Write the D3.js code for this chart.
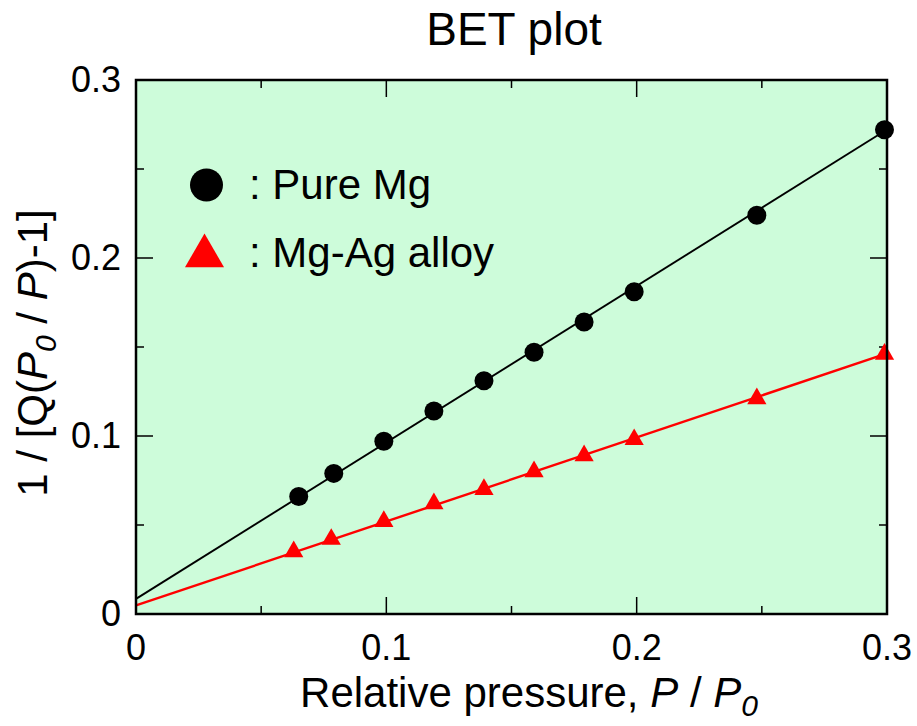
<!DOCTYPE html>
<html>
<head>
<meta charset="utf-8">
<script src="https://cdn.jsdelivr.net/npm/d3@7"></script>
<style>
  body { margin: 0; background: #fff; }
  text { font-family: "Liberation Sans", Arial, sans-serif; fill: #000; }
</style>
</head>
<body>
<div id="chart"></div>
<script>
/* ===== DATA ===== */
const mgX = [0.065, 0.079, 0.099, 0.119, 0.139, 0.159, 0.179, 0.199, 0.248, 0.299];
const mgY = [0.066, 0.079, 0.097, 0.114, 0.131, 0.147, 0.164, 0.181, 0.224, 0.272];
const agX = [0.063, 0.078, 0.099, 0.119, 0.139, 0.159, 0.179, 0.199, 0.248, 0.299];
const agY = [0.035, 0.042, 0.052, 0.062, 0.070, 0.080, 0.089, 0.098, 0.121, 0.146];
// linear fits: [intercept, slope]
const mgFit = [0.0085, 0.879];
const agFit = [0.0048, 0.472];
const xTicks = [0, 0.1, 0.2, 0.3];
const yTicks = [0, 0.1, 0.2, 0.3];
const xLabels = ["0", "0.1", "0.2", "0.3"];
const yLabels = ["0", "0.1", "0.2", "0.3"];

/* ===== LAYOUT ===== */
const width = 917, height = 726;
const margin = { left: 136, right: 30, top: 80, bottom: 112 };
const plotW = width - margin.left - margin.right;
const plotH = height - margin.top - margin.bottom;

const svg = d3.select("#chart").append("svg")
    .attr("width", width)
    .attr("height", height);

const x = d3.scaleLinear().domain([0, 0.3]).range([margin.left, margin.left + plotW]);
const y = d3.scaleLinear().domain([0, 0.3]).range([margin.top + plotH, margin.top]);

/* ===== PLOT BACKGROUND ===== */
svg.append("rect")
    .attr("x", margin.left).attr("y", margin.top)
    .attr("width", plotW).attr("height", plotH)
    .attr("fill", "#cdfcda");

/* ===== TICKS (inward, all sides) ===== */
const major = 17, minor = 8;
const minorVals = [0.05, 0.15, 0.25];
const tickG = svg.append("g").attr("stroke", "#000").attr("stroke-width", 1.5);
function drawX(v, len) {
    tickG.append("line").attr("x1", x(v)).attr("x2", x(v))
        .attr("y1", y(0)).attr("y2", y(0) - len);
    tickG.append("line").attr("x1", x(v)).attr("x2", x(v))
        .attr("y1", y(0.3)).attr("y2", y(0.3) + len);
}
function drawY(v, len) {
    tickG.append("line").attr("y1", y(v)).attr("y2", y(v))
        .attr("x1", x(0)).attr("x2", x(0) + len);
    tickG.append("line").attr("y1", y(v)).attr("y2", y(v))
        .attr("x1", x(0.3)).attr("x2", x(0.3) - len);
}
xTicks.forEach(v => drawX(v, major));
yTicks.forEach(v => drawY(v, major));
minorVals.forEach(v => { drawX(v, minor); drawY(v, minor); });

/* ===== FIT LINES ===== */
const line = d3.line().x(d => x(d[0])).y(d => y(d[1]));
svg.append("path")
    .attr("d", line([[0, mgFit[0]], [0.3, mgFit[0] + mgFit[1] * 0.3]]))
    .attr("stroke", "#000").attr("stroke-width", 1.9).attr("fill", "none");
svg.append("path")
    .attr("d", line([[0, agFit[0]], [0.3, agFit[0] + agFit[1] * 0.3]]))
    .attr("stroke", "#ff0000").attr("stroke-width", 2.4).attr("fill", "none");

/* ===== MARKERS ===== */
const tri = d3.symbol().type(d3.symbolTriangle).size(160);
svg.append("g").selectAll("path")
    .data(agX.map((v, i) => [v, agY[i]]))
    .enter().append("path")
    .attr("d", tri)
    .attr("transform", d => `translate(${x(d[0])},${y(d[1])})`)
    .attr("fill", "#ff0000");

svg.append("g").selectAll("circle")
    .data(mgX.map((v, i) => [v, mgY[i]]))
    .enter().append("circle")
    .attr("cx", d => x(d[0])).attr("cy", d => y(d[1]))
    .attr("r", 9.5).attr("fill", "#000");

/* ===== FRAME ===== */
svg.append("rect")
    .attr("x", margin.left).attr("y", margin.top)
    .attr("width", plotW).attr("height", plotH)
    .attr("fill", "none").attr("stroke", "#000").attr("stroke-width", 2.5);

/* ===== TICK LABELS ===== */
svg.append("g").selectAll("text").data(xTicks).enter().append("text")
    .attr("x", d => x(d)).attr("y", 660)
    .attr("text-anchor", "middle").attr("font-size", 36)
    .text((d, i) => xLabels[i]);
svg.append("g").selectAll("text").data(yTicks).enter().append("text")
    .attr("x", 121).attr("y", d => y(d) + 12)
    .attr("text-anchor", "end").attr("font-size", 36)
    .text((d, i) => yLabels[i]);

/* ===== TITLE ===== */
svg.append("text").attr("x", 514).attr("y", 45)
    .attr("text-anchor", "middle").attr("font-size", 46).text("BET plot");

/* ===== AXIS LABELS ===== */
const xl = svg.append("text").attr("x", 529).attr("y", 707)
    .attr("text-anchor", "middle").attr("font-size", 42);
xl.append("tspan").text("Relative pressure, ");
xl.append("tspan").attr("font-style", "italic").text("P");
xl.append("tspan").text(" / ");
xl.append("tspan").attr("font-style", "italic").text("P");
xl.append("tspan").attr("font-style", "italic").attr("font-size", 30).attr("dy", 9).text("0");

const yl = svg.append("text")
    .attr("transform", "translate(47,353) rotate(-90)")
    .attr("text-anchor", "middle").attr("font-size", 42);
yl.append("tspan").text("1 / [Q(");
yl.append("tspan").attr("font-style", "italic").text("P");
yl.append("tspan").attr("font-style", "italic").attr("font-size", 30).attr("dy", 9).text("0");
yl.append("tspan").attr("dy", -9).text(" / ");
yl.append("tspan").attr("font-style", "italic").text("P");
yl.append("tspan").text(")-1]");

/* ===== LEGEND ===== */
svg.append("circle").attr("cx", 206.5).attr("cy", 185).attr("r", 16.5).attr("fill", "#000");
svg.append("path")
    .attr("d", d3.symbol().type(d3.symbolTriangle).size(660))
    .attr("transform", "translate(204.5,256)")
    .attr("fill", "#ff0000");
svg.append("text").attr("x", 249).attr("y", 199).attr("font-size", 42).text(": Pure Mg");
svg.append("text").attr("x", 249).attr("y", 267).attr("font-size", 42).text(": Mg-Ag alloy");
</script>
</body>
</html>
